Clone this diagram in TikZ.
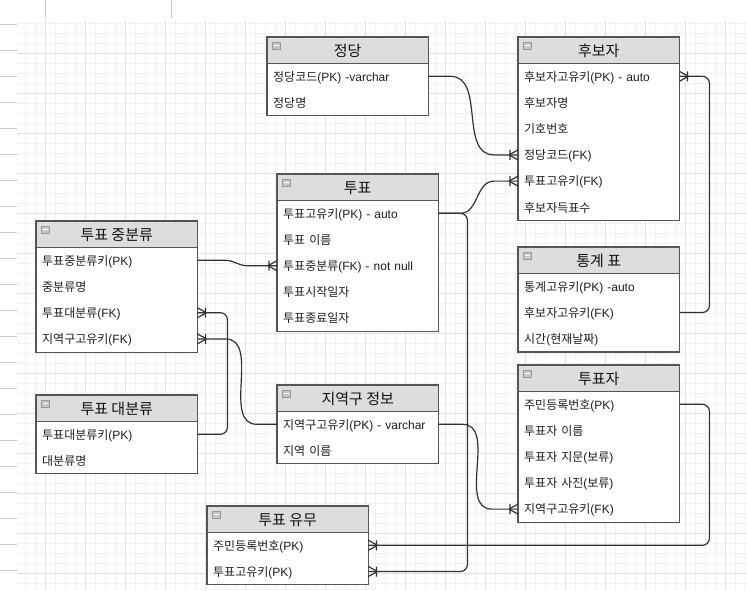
\documentclass[tikz,border=0pt]{standalone}
\usepackage{fontspec}
\setmainfont{Liberation Sans}
\newfontfamily\krfont{Noto Sans CJK KR}
\newcommand\hgl[1]{{\krfont #1}}

\definecolor{framegray}{HTML}{555555}
\definecolor{headfill}{HTML}{DDDDDD}
\definecolor{titletext}{HTML}{111111}
\definecolor{rowtext}{HTML}{1E1E1E}
\definecolor{linecol}{HTML}{333333}
\definecolor{gridminor}{HTML}{F1F1F1}
\definecolor{gridmajor}{HTML}{E2E2E2}
\definecolor{rulergray}{HTML}{C8C8C8}

% entity table: #1 id, #2 left, #3 top, #4 title, #5 rows, #6 number of rows
\newcommand\ertable[6]{%
  \node[tabhead] (#1) at (#2,#3) {#4};
  \foreach \rowtext [count=\i] in {#5}
    \node[tabrow] (#1-\i) at (#2,{#3+26+26.2*(\i-1)}) {\rowtext};
  \draw[tabframe] (#1.north west) rectangle (#1-#6.south east);
  \draw[tabframe] (#1.south west) -- (#1.south east);
  \node[collapsebox] (#1-icon) at ([shift={(5,5)}]#1.north west) {};
  \draw[white, line width=1pt] ([xshift=1.8pt]#1-icon.west) -- ([xshift=-1.8pt]#1-icon.east);
}

% crow's foot with bar; #2 = +1 foot opens to the left of a right-side anchor
\newcommand\crowfoot[2]{%
  \draw[conn] ([xshift=#2*9pt]#1) -- ([yshift=5pt]#1)
              ([xshift=#2*9pt]#1) -- ([yshift=-5pt]#1)
              ([xshift=#2*8pt,yshift=5pt]#1) -- ([xshift=#2*8pt,yshift=-5pt]#1);}

\begin{document}
\begin{tikzpicture}[x=1pt,y=-1pt,
  tabframe/.style={draw=framegray, line width=1.1pt},
  tabhead/.style={anchor=north west, minimum width=161pt, minimum height=26pt,
    inner sep=0pt, fill=headfill, text height=13.5pt, text depth=0.5pt,
    font=\fontsize{15}{17}\selectfont, text=titletext},
  tabrow/.style={anchor=north west, text width=149pt, inner xsep=6pt, inner ysep=0pt,
    minimum height=26.2pt, align=left, text height=10.5pt, text depth=1.1pt, fill=white,
    font=\fontsize{12}{14}\selectfont, text=rowtext},
  collapsebox/.style={anchor=north west, minimum width=8pt, minimum height=7pt,
    inner sep=0pt, fill=gray!45, draw=gray!80, line width=0.6pt},
  conn/.style={draw=linecol, line width=1.2pt},
  ruler/.style={draw=rulergray, line width=0.8pt}]

\useasboundingbox (0,0) rectangle (747,590);
\fill[white] (0,0) rectangle (747,590);

% background grid
\begin{scope}[shift={(5,13)}]
  \draw[gridminor, line width=0.6pt, step=10pt] (12,7) grid (742,577);
  \draw[gridmajor, line width=0.8pt, step=40pt] (12,7) grid (742,577);
\end{scope}

% ruler marks
\foreach \ty in {24,50,...,590} \draw[ruler] (0,\ty) -- (17,\ty);
\foreach \tx in {45,171} \draw[ruler] (\tx,0) -- (\tx,18);

% entities
\ertable{jd}{267}{37}{\hgl{정당}}{\hgl{정당코드}(PK) -varchar, \hgl{정당명}}{2}
\ertable{hb}{518}{37}{\hgl{후보자}}{\hgl{후보자고유키}(PK) - auto, \hgl{후보자명}, \hgl{기호번호}, \hgl{정당코드}(FK), \hgl{투표고유키}(FK), \hgl{후보자득표수}}{6}
\ertable{tp}{277}{174}{\hgl{투표}}{\hgl{투표고유키}(PK) - auto, \hgl{투표 이름}, \hgl{투표중분류}(FK) - not null, \hgl{투표시작일자}, \hgl{투표종료일자}}{5}
\ertable{jb}{36}{221}{\hgl{투표 중분류}}{\hgl{투표중분류키}(PK), \hgl{중분류명}, \hgl{투표대분류}(FK), \hgl{지역구고유키}(FK)}{4}
\ertable{db}{36}{395}{\hgl{투표 대분류}}{\hgl{투표대분류키}(PK), \hgl{대분류명}}{2}
\ertable{jg}{277}{385}{\hgl{지역구 정보}}{\hgl{지역구고유키}(PK) - varchar, \hgl{지역 이름}}{2}
\ertable{tg}{518}{247}{\hgl{통계 표}}{\hgl{통계고유키}(PK) -auto, \hgl{후보자고유키}(FK), \hgl{시간}(\hgl{현재날짜})}{3}
\ertable{tj}{518}{365}{\hgl{투표자}}{\hgl{주민등록번호}(PK), \hgl{투표자 이름}, \hgl{투표자 지문}(\hgl{보류}), \hgl{투표자 사진}(\hgl{보류}), \hgl{지역구고유키}(FK)}{5}
\ertable{yu}{207}{506}{\hgl{투표 유무}}{\hgl{주민등록번호}(PK), \hgl{투표고유키}(PK)}{2}

% relationships
\draw[conn] (jd-1.east) -- ++(22,0) to[out=0,in=180] ([xshift=-24pt]hb-4.west) -- (hb-4.west);
\crowfoot{hb-4.west}{-1}

\draw[conn] (tp-1.east) -- ++(22,0) to[out=0,in=180] ([xshift=-24pt]hb-5.west) -- (hb-5.west);
\crowfoot{hb-5.west}{-1}

\draw[conn, rounded corners=7pt] (tp-1.east) -- ++(29,0) |- (yu-2.east);
\crowfoot{yu-2.east}{1}

\draw[conn, rounded corners=7pt] (tg-2.east) -- ++(30,0) |- (hb-1.east);
\crowfoot{hb-1.east}{1}

\draw[conn, rounded corners=7pt] (tj-1.east) -- ++(30,0) |- (yu-1.east);
\crowfoot{yu-1.east}{1}

\draw[conn] (jb-1.east) -- ++(28,0) to[out=0,in=180] ([xshift=-30pt]tp-3.west) -- (tp-3.west);
\crowfoot{tp-3.west}{-1}

\draw[conn, rounded corners=7pt] (db-1.east) -- ++(30,0) |- (jb-3.east);
\crowfoot{jb-3.east}{1}

\draw[conn] (jg-1.west) -- ++(-20,0) to[out=180,in=0] ([xshift=28pt]jb-4.east) -- (jb-4.east);
\crowfoot{jb-4.east}{1}

\draw[conn] (jg-1.east) -- ++(24,0) to[out=0,in=180] ([xshift=-26pt]tj-5.west) -- (tj-5.west);
\crowfoot{tj-5.west}{-1}

\end{tikzpicture}
\end{document}
